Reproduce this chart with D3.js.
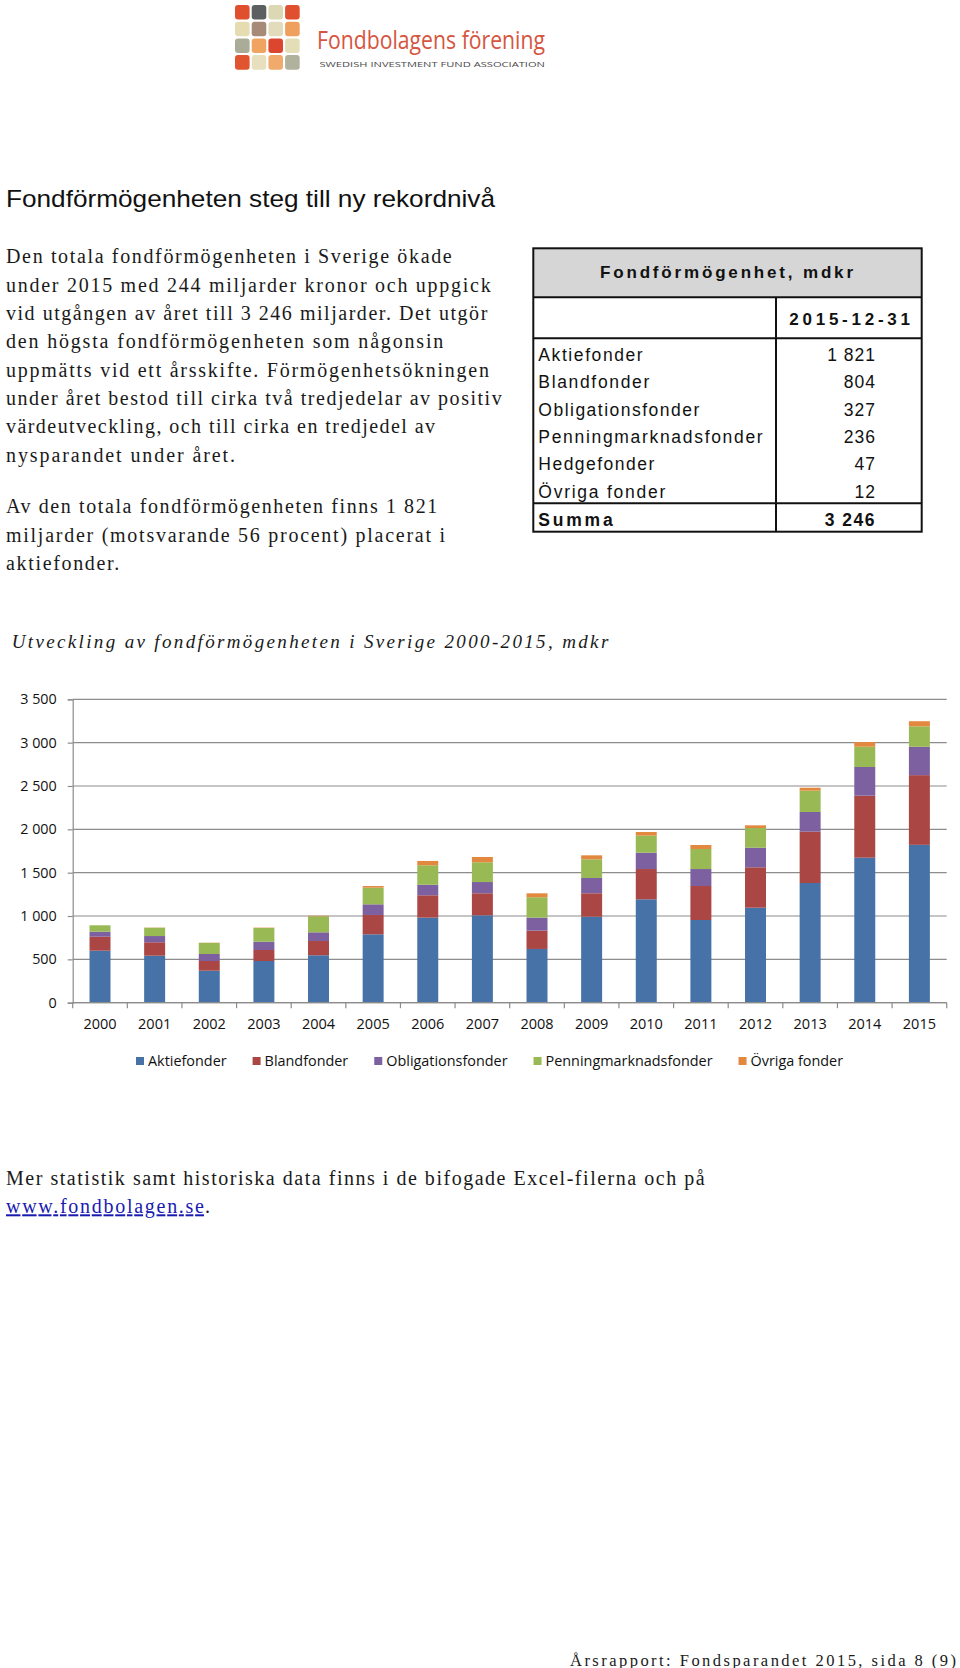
<!DOCTYPE html>
<html>
<head>
<meta charset="utf-8">
<script src="https://cdn.jsdelivr.net/npm/d3@7"></script>
<style>
  html, body { margin: 0; padding: 0; background: #fff; }
  svg { display: block; }
</style>
</head>
<body>
<svg id="page" width="960" height="1668"></svg>
<script>
// ---------------- DATA ----------------
const years = ["2000","2001","2002","2003","2004","2005","2006","2007","2008","2009","2010","2011","2012","2013","2014","2015"];
const seriesNames = ["Aktiefonder","Blandfonder","Obligationsfonder","Penningmarknadsfonder","Övriga fonder"];
const aktiefonder = [600,542,369,481,547,789,981,1008,620,992,1193,954,1096,1381,1673,1821];
const blandfonder = [161,155,112,127,165,223,258,254,211,270,349,392,466,592,715,804];
const obligationsfonder = [58,72,81,96,100,123,122,130,150,177,189,196,226,227,331,327];
const penningmarknadsfonder = [74,96,127,158,185,192,224,228,235,215,196,231,227,246,234,236];
const ovrigaFonder = [0,2,3,4,6,19,50,61,46,46,42,46,31,34,54,59];
const yTicks = [0,500,1000,1500,2000,2500,3000,3500];

const tableTitle = "Fondförmögenhet, mdkr";
const tableDate = "2015-12-31";
const tableLabels = ["Aktiefonder","Blandfonder","Obligationsfonder","Penningmarknadsfonder","Hedgefonder","Övriga fonder"];
const tableValues = ["1 821","804","327","236","47","12"];
const tableSumLabel = "Summa";
const tableSum = "3 246";

const pageTitle = "Fondförmögenheten steg till ny rekordnivå";
const paragraph1 = [
  "Den totala fondförmögenheten i Sverige ökade",
  "under 2015 med 244 miljarder kronor och uppgick",
  "vid utgången av året till 3 246 miljarder. Det utgör",
  "den högsta fondförmögenheten som någonsin",
  "uppmätts vid ett årsskifte. Förmögenhetsökningen",
  "under året bestod till cirka två tredjedelar av positiv",
  "värdeutveckling, och till cirka en tredjedel av",
  "nysparandet under året."
];
const paragraph2 = [
  "Av den totala fondförmögenheten finns 1 821",
  "miljarder (motsvarande 56 procent) placerat i",
  "aktiefonder."
];
const chartTitle = "Utveckling av fondförmögenheten i Sverige 2000-2015, mdkr";
const footerLine = "Mer statistik samt historiska data finns i de bifogade Excel-filerna och på";
const footerLink = "www.fondbolagen.se";
const pageFooter = "Årsrapport: Fondsparandet 2015, sida 8 (9)";
const logoName = "Fondbolagens förening";
const logoSub = "SWEDISH INVESTMENT FUND ASSOCIATION";

// ---------------- STYLE / LAYOUT ----------------
const colors = ["#4672a8","#aa4643","#7d60a0","#98b954","#e3893f"];
const logoColors = [
  ["#e0502f","#5c6060","#ddd8b4","#e0502f"],
  ["#e6dcb2","#a68c78","#e2dcbc","#f0a05e"],
  ["#aaac98","#f0a462","#dc462e","#e4deb6"],
  ["#e0542f","#e8dfbe","#f0aa6c","#b0b29e"]
];
const serif = "'Liberation Serif','Times New Roman',serif";
const sans = "'Liberation Sans',Arial,sans-serif";
const calib = "'Open Sans','Noto Sans',sans-serif";

const svg = d3.select("#page");

// ---- Logo ----
const logo = svg.append("g");
logoColors.forEach((row, r) => row.forEach((c, k) => {
  logo.append("rect").attr("x", 235 + k * 16.7).attr("y", 5 + r * 16.7)
    .attr("width", 14.6).attr("height", 14.6).attr("rx", 3).attr("fill", c);
}));
logo.append("text").attr("x", 317).attr("y", 48.5)
  .attr("font-family", "'Open Sans','Lato',sans-serif").attr("font-size", 26)
  .attr("fill", "#d65540").attr("textLength", 228).attr("lengthAdjust", "spacingAndGlyphs")
  .text(logoName);
logo.append("text").attr("x", 319.5).attr("y", 66.5)
  .attr("font-family", "'Open Sans','Lato',sans-serif").attr("font-size", 7.8)
  .attr("fill", "#4a4a4a").attr("textLength", 225.5).attr("lengthAdjust", "spacingAndGlyphs")
  .text(logoSub);

// ---- Title ----
svg.append("text").attr("x", 6).attr("y", 206.7)
  .attr("font-family", sans).attr("font-size", 24).attr("fill", "#111")
  .attr("textLength", 489).attr("lengthAdjust", "spacingAndGlyphs")
  .text(pageTitle);

// ---- Paragraphs ----
const p1Widths = [445.7,484.7,481.3,437.3,483,495.7,429,229];
const p2Widths = [431.3,439,113.3];
paragraph1.forEach((line, i) => {
  svg.append("text").attr("x", 6).attr("y", 263.3 + i * 28.35)
    .attr("font-family", serif).attr("font-size", 20).attr("fill", "#1a1a1a")
    .attr("textLength", p1Widths[i]).attr("lengthAdjust", "spacing").text(line);
});
paragraph2.forEach((line, i) => {
  svg.append("text").attr("x", 6).attr("y", 513.3 + i * 28.35)
    .attr("font-family", serif).attr("font-size", 20).attr("fill", "#1a1a1a")
    .attr("textLength", p2Widths[i]).attr("lengthAdjust", "spacing").text(line);
});

// ---- Table ----
const T = { x0: 533.3, x1: 921.7, xm: 776, yTop: 248.3, yHead: 297.3, yDate: 338.3, ySum: 503.3, yBot: 531.7 };
const tbl = svg.append("g");
tbl.append("rect").attr("x", T.x0).attr("y", T.yTop).attr("width", T.x1 - T.x0).attr("height", T.yHead - T.yTop)
  .attr("fill", "#d6d6d6");
tbl.append("rect").attr("x", T.x0).attr("y", T.yTop).attr("width", T.x1 - T.x0).attr("height", T.yBot - T.yTop)
  .attr("fill", "none").attr("stroke", "#111").attr("stroke-width", 2);
[T.yHead, T.yDate, T.ySum].forEach(yy => tbl.append("line").attr("x1", T.x0).attr("x2", T.x1)
  .attr("y1", yy).attr("y2", yy).attr("stroke", "#111").attr("stroke-width", 2));
tbl.append("line").attr("x1", T.xm).attr("x2", T.xm).attr("y1", T.yHead).attr("y2", T.yBot)
  .attr("stroke", "#111").attr("stroke-width", 2);
tbl.append("text").attr("x", 600).attr("y", 278.3).attr("font-family", sans).attr("font-weight", "bold")
  .attr("font-size", 17).attr("fill", "#111").attr("textLength", 253).attr("lengthAdjust", "spacing").text(tableTitle);
tbl.append("text").attr("x", 789.3).attr("y", 325).attr("font-family", sans).attr("font-weight", "bold")
  .attr("font-size", 17).attr("fill", "#111").attr("textLength", 120.7).attr("lengthAdjust", "spacing").text(tableDate);
const labelWidths = [104.4,111,161,224.4,116,127];
tableLabels.forEach((lab, i) => {
  const yy = 360.7 + i * 27.4;
  tbl.append("text").attr("x", 538.3).attr("y", yy).attr("font-family", sans).attr("font-size", 17.5)
    .attr("fill", "#111").attr("textLength", labelWidths[i]).attr("lengthAdjust", "spacing").text(lab);
  tbl.append("text").attr("x", 876).attr("y", yy).attr("font-family", sans).attr("font-size", 17.5)
    .attr("fill", "#111").attr("text-anchor", "end").style("letter-spacing", "1px").text(tableValues[i]);
});
tbl.append("text").attr("x", 538.3).attr("y", 526).attr("font-family", sans).attr("font-weight", "bold")
  .attr("font-size", 17.5).attr("fill", "#111").attr("textLength", 74.4).attr("lengthAdjust", "spacing").text(tableSumLabel);
tbl.append("text").attr("x", 876).attr("y", 526).attr("font-family", sans).attr("font-weight", "bold")
  .attr("font-size", 17.5).attr("fill", "#111").attr("text-anchor", "end").style("letter-spacing", "1.5px").text(tableSum);

// ---- Chart title ----
svg.append("text").attr("x", 11.7).attr("y", 648.3)
  .attr("font-family", serif).attr("font-style", "italic").attr("font-size", 19).attr("fill", "#1a1a1a")
  .attr("textLength", 596.6).attr("lengthAdjust", "spacing").text(chartTitle);

// ---- Chart ----
const plot = { left: 72.7, right: 946.7, top: 699.3, bottom: 1002.7 };
const x = d3.scaleBand().domain(years).range([plot.left, plot.right]).paddingInner(0.616).paddingOuter(0.308);
const y = d3.scaleLinear().domain([0, 3500]).range([plot.bottom, plot.top]);

const table = years.map((yr, i) => ({
  year: yr,
  "Aktiefonder": aktiefonder[i],
  "Blandfonder": blandfonder[i],
  "Obligationsfonder": obligationsfonder[i],
  "Penningmarknadsfonder": penningmarknadsfonder[i],
  "Övriga fonder": ovrigaFonder[i]
}));
const stacked = d3.stack().keys(seriesNames)(table);

const grid = svg.append("g");
yTicks.forEach(t => {
  grid.append("line").attr("x1", plot.left).attr("x2", plot.right)
    .attr("y1", y(t)).attr("y2", y(t)).attr("stroke", "#8c8c8c").attr("stroke-width", 1.2);
});

const fmt = d3.formatLocale({ decimal: ",", thousands: " ", grouping: [3], currency: ["", " kr"] }).format(",d");
const yAxis = svg.append("g").attr("transform", `translate(${plot.left},0)`)
  .call(d3.axisLeft(y).tickValues(yTicks).tickSize(5).tickPadding(11).tickFormat(fmt));
yAxis.select(".domain").attr("stroke", "#8c8c8c").attr("stroke-width", 1.2);
yAxis.selectAll(".tick line").attr("stroke", "#8c8c8c").attr("stroke-width", 1.2);
yAxis.selectAll("text").attr("font-family", calib).attr("font-size", 14.3).attr("fill", "#111");

// bars
svg.append("g").selectAll("g").data(stacked).join("g")
  .attr("fill", (d, i) => colors[i])
  .selectAll("rect").data(d => d).join("rect")
  .attr("x", d => x(d.data.year))
  .attr("width", x.bandwidth())
  .attr("y", d => y(d[1]))
  .attr("height", d => Math.max(0, y(d[0]) - y(d[1])));

// x axis
const xAxis = svg.append("g").attr("transform", `translate(0,${plot.bottom})`)
  .call(d3.axisBottom(x).tickSize(0).tickPadding(16));
xAxis.select(".domain").remove();
xAxis.selectAll("text").attr("font-family", calib).attr("font-size", 14.5).attr("fill", "#111");
svg.append("line").attr("x1", plot.left).attr("x2", plot.right).attr("y1", plot.bottom).attr("y2", plot.bottom)
  .attr("stroke", "#8c8c8c").attr("stroke-width", 1.2);
const step = x.step();
const bounds = years.map(yr => x(yr) + x.bandwidth() / 2 - step / 2).concat([plot.right]);
svg.append("g").selectAll("line").data(bounds).join("line")
  .attr("x1", d => d).attr("x2", d => d).attr("y1", plot.bottom).attr("y2", plot.bottom + 5.5)
  .attr("stroke", "#8c8c8c").attr("stroke-width", 1.2);

// legend
const legend = svg.append("g");
let lx = 136;
seriesNames.forEach((name, i) => {
  legend.append("rect").attr("x", lx).attr("y", 1057).attr("width", 8).attr("height", 8).attr("fill", colors[i]);
  const t = legend.append("text").attr("x", lx + 12).attr("y", 1066)
    .attr("font-family", calib).attr("font-size", 14.4).attr("fill", "#111").text(name);
  lx += 12 + t.node().getComputedTextLength() + 26;
});

// ---- Footer text ----
svg.append("text").attr("x", 6).attr("y", 1185)
  .attr("font-family", serif).attr("font-size", 20).attr("fill", "#1a1a1a")
  .attr("textLength", 698.6).attr("lengthAdjust", "spacing").text(footerLine);
svg.append("text").attr("x", 6).attr("y", 1213.3)
  .attr("font-family", serif).attr("font-size", 20).attr("fill", "#1a1ab0")
  .attr("text-decoration", "underline")
  .attr("textLength", 198).attr("lengthAdjust", "spacing").text(footerLink);
svg.append("text").attr("x", 205).attr("y", 1213.3)
  .attr("font-family", serif).attr("font-size", 20).attr("fill", "#1a1a1a").text(".");

svg.append("text").attr("x", 570).attr("y", 1665.5)
  .attr("font-family", serif).attr("font-size", 16.5).attr("fill", "#1a1a1a")
  .attr("textLength", 386).attr("lengthAdjust", "spacing").text(pageFooter);
</script>
</body>
</html>
